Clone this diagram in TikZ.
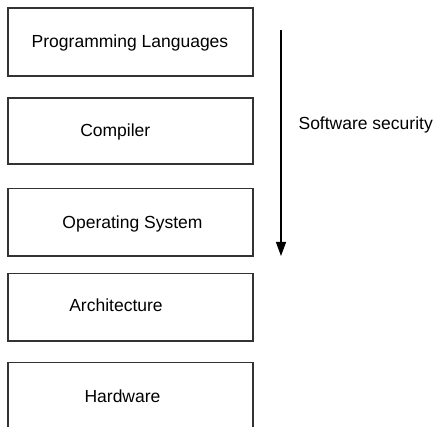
\documentclass[tikz,border=0pt]{standalone}
\usepackage{fontspec}
\setmainfont{Liberation Sans}
\usetikzlibrary{arrows.meta}
\tikzset{
  layer/.style={draw=black!80, line width=0.9pt, rectangle, inner sep=0pt, minimum width=6.125cm},
  layerlabel/.style={font=\fontsize{12.45}{15}\selectfont, anchor=base, inner sep=0pt},
  flow/.style={line width=0.75pt, draw=black, -{Triangle[width=0.25cm, length=0.35cm]}},
}
\begin{document}
\begin{tikzpicture}
\useasboundingbox (0,0) rectangle (10.85,10.675);
\node[layer, minimum height=1.7cm] (lang) at (3.2625,9.625) {};
\node[layer, minimum height=1.65cm] (comp) at (3.2625,7.4) {};
\node[layer, minimum height=1.6875cm] (os) at (3.2625,5.119) {};
\node[layer, minimum height=1.6875cm] (arch) at (3.2625,2.994) {};
\draw[draw=black!80, line width=0.9pt] (0.2,0) |- (6.325,1.6125) -- (6.325,0);
\node[layerlabel] (langtext) at (3.25,9.475) {Programming Languages};
\node[layerlabel] (comptext) at (2.8825,7.2575) {Compiler};
\node[layerlabel] (ostext) at (3.3125,4.95) {Operating System};
\node[layerlabel] (archtext) at (2.9,2.875) {Architecture};
\node[layerlabel] (hwtext) at (3.0625,0.625) {Hardware};
\coordinate (flowtop) at (7.025,9.925);
\coordinate (flowend) at (7.025,4.275);
\draw[flow] (flowtop) -- (flowend);
\node[layerlabel, anchor=base west] (sectext) at (7.4575,7.425) {Software security};
\end{tikzpicture}
\end{document}
